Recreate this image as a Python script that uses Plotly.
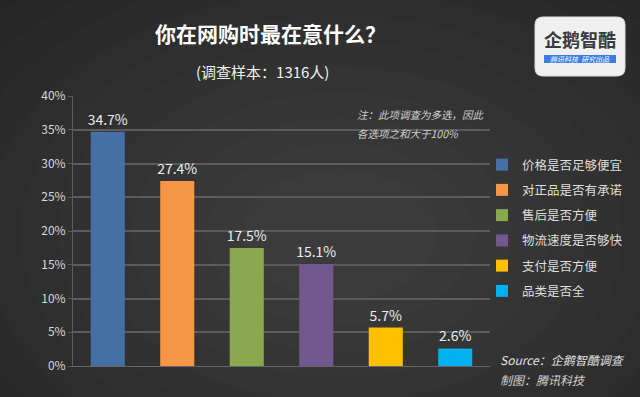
import plotly.graph_objects as go

categories = ["价格是否足够便宜", "对正品是否有承诺", "售后是否方便", "物流速度是否够快", "支付是否方便", "品类是否全"]
values = [0.347, 0.274, 0.175, 0.151, 0.057, 0.026]
colors = ["#4470a5", "#f79646", "#8aa84e", "#71588f", "#ffc000", "#00b0f0"]

W, H = 640, 397
def px(x): return x / W
def py(y): return 1 - y / H

fig = go.Figure()
for i, (c, v, col) in enumerate(zip(categories, values, colors)):
    fig.add_trace(go.Bar(
        x=[i], y=[v], name=c, marker=dict(color=col, line=dict(width=0)),
        width=0.49, text=[f"{v*100:.1f}%"], textposition="outside", constraintext="none",
        textfont=dict(color="#ececec", size=14, family="Noto Sans CJK SC"),
        cliponaxis=False, legendgroup=str(i),
    ))

shapes = []
# radial-ish background glow
n = 14
cx, cy = 340, 235
for k in range(n):
    rx = 520 * (1 - k / n) + 60
    ry = 360 * (1 - k / n) + 40
    shapes.append(dict(type="circle", xref="paper", yref="paper",
                       x0=px(cx - rx), x1=px(cx + rx), y0=py(cy + ry), y1=py(cy - ry),
                       fillcolor="rgba(255,255,255,0.011)", line=dict(width=0), layer="below"))
# logo box
x0, x1, y0, y1, r = 535, 625, 17, 76, 8
path = (f"M {px(x0+r)},{py(y0)} L {px(x1-r)},{py(y0)} Q {px(x1)},{py(y0)} {px(x1)},{py(y0+r)} "
        f"L {px(x1)},{py(y1-r)} Q {px(x1)},{py(y1)} {px(x1-r)},{py(y1)} L {px(x0+r)},{py(y1)} "
        f"Q {px(x0)},{py(y1)} {px(x0)},{py(y1-r)} L {px(x0)},{py(y0+r)} Q {px(x0)},{py(y0)} {px(x0+r)},{py(y0)} Z")
shapes.append(dict(type="path", xref="paper", yref="paper", path=path,
                   fillcolor="#f0f0f0", line=dict(color="#dcdcdc", width=1)))
shapes.append(dict(type="rect", xref="paper", yref="paper", x0=px(544), x1=px(616), y0=py(63), y1=py(55),
                   fillcolor="#3b7de0", line=dict(width=0)))

ann = [
    dict(text="<b>你在网购时最在意什么？</b>", x=px(270), y=py(33), font=dict(size=21, color="#ffffff")),
    dict(text="(调查样本：1316人)", x=px(262), y=py(71), font=dict(size=15, color="#f0f0f0")),
    dict(text="<i>注：此项调查为多选，因此</i>", x=px(355), y=py(115), xanchor="left", font=dict(size=10.5, color="#d0d0d0")),
    dict(text="<i>各选项之和大于100%</i>", x=px(355), y=py(133), xanchor="left", font=dict(size=10.5, color="#d0d0d0")),
    dict(text="<i>Source：企鹅智酷调查</i>", x=px(498), y=py(359), xanchor="left", font=dict(size=12, color="#e0e0e0")),
    dict(text="<i>制图：腾讯科技</i>", x=px(498), y=py(379), xanchor="left", font=dict(size=12, color="#d0d0d0")),
    dict(text="<b>企鹅智酷</b>", x=px(580), y=py(39), font=dict(size=18, color="#3a3a3a")),
    dict(text="<i>腾讯科技  研究出品</i>", x=px(580), y=py(59), font=dict(size=7, color="#ffffff")),
]
for a in ann:
    a.setdefault("xanchor", "center")
    a.update(xref="paper", yref="paper", yanchor="middle", showarrow=False)

fig.update_layout(
    width=W, height=H,
    margin=dict(l=0, r=0, t=0, b=0, pad=0, autoexpand=False),
    paper_bgcolor="#1f1f1f", plot_bgcolor="rgba(0,0,0,0)",
    font=dict(family="Noto Sans CJK SC", color="#e0e0e0"),
    barmode="overlay",
    showlegend=True,
    legend=dict(x=px(482), y=py(150), xanchor="left", yanchor="top",
                font=dict(size=12.5, color="#dedede"), bgcolor="rgba(0,0,0,0)",
                traceorder="grouped", tracegroupgap=6, itemwidth=30),
    xaxis=dict(domain=[px(73), px(490)], range=[-0.5, 5.5], showticklabels=False, automargin=False,
               showgrid=False, zeroline=False, showline=True, linecolor="#666666", linewidth=1),
    yaxis=dict(domain=[py(366), py(96)], range=[0, 0.40], dtick=0.05, tickformat=".0%", automargin=False,
               showgrid=True, gridcolor="#5c5c5c", gridwidth=1.5, zeroline=False,
               showline=True, linecolor="#5c5c5c", linewidth=1,
               ticks="outside", ticklen=4, tickcolor="#5c5c5c",
               tickfont=dict(size=12, color="#d8d8d8")),
    shapes=shapes, annotations=ann,
)
fig.write_html("out.html", config={"displayModeBar": False},
               post_script="document.body.style.margin='0';document.body.style.overflow='hidden';")
